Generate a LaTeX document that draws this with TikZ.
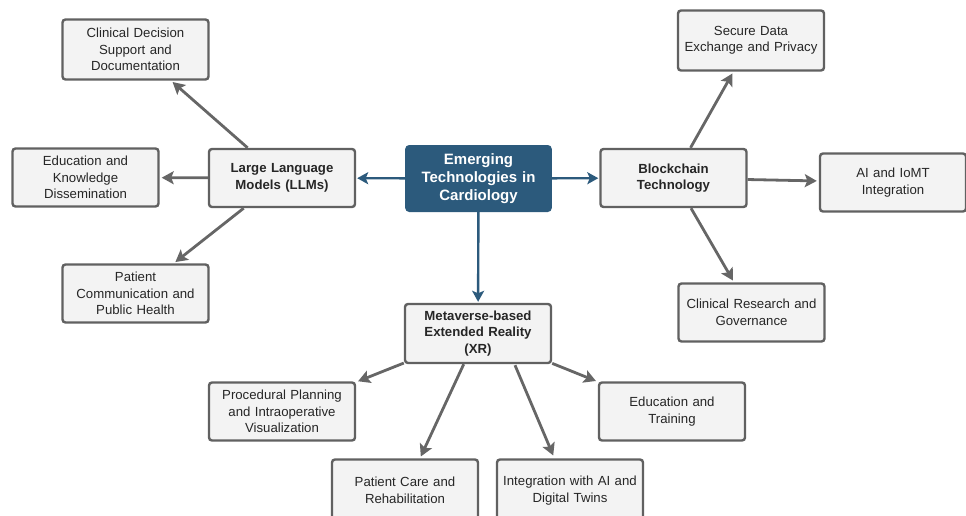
\documentclass[tikz,border=0pt]{standalone}
\usepackage{fontspec}
\setmainfont{Liberation Sans}
\usetikzlibrary{arrows.meta,calc}
\definecolor{navy}{HTML}{2C5A7C}
\definecolor{boxfill}{HTML}{F3F3F3}
\definecolor{boxline}{HTML}{616161}
\definecolor{arrgray}{HTML}{666666}
\tikzset{
  leaf/.style={draw=boxline, line width=2.4pt, fill=boxfill, rounded corners=3pt,
    minimum width=146pt, minimum height=58pt, inner sep=2pt, align=center,
    text width=140pt, font=\fontsize{13.2}{16.5}\selectfont, text=black!85},
  hub/.style={leaf, font=\fontsize{13.2}{16.5}\selectfont\bfseries},
  core/.style={fill=navy, draw=none, rounded corners=4pt, minimum width=145pt,
    minimum height=67pt, align=center, text width=140pt, text=white,
    font=\fontsize{15}{18}\selectfont\bfseries},
  grayarr/.style={draw=arrgray, line width=2.8pt, -{Stealth[length=12pt,width=13pt,inset=2.5pt]}, shorten >=2pt},
  bluearr/.style={draw=navy, line width=2.4pt, -{Stealth[length=11pt,width=12pt,inset=2.5pt]}, shorten >=1pt},
}
\begin{document}
\begin{tikzpicture}[x=1pt,y=-1pt]
\useasboundingbox (0,0) rectangle (966,516);
\node[core] (ctr) at (478.5,178.5) {Emerging\\Technologies in\\Cardiology};
\node[hub] (llm) at (282,178) {Large Language\\Models (LLMs)};
\node[hub] (blk) at (673.5,178) {Blockchain\\Technology};
\node[hub, minimum height=59pt] (xr) at (478,333.5) {Metaverse-based\\Extended Reality\\(XR)};
\node[leaf, minimum height=60pt] (cds) at (135.5,49.5) {Clinical Decision\\Support and\\Documentation};
\node[leaf] (edk) at (85.5,177.5) {Education and\\Knowledge\\Dissemination};
\node[leaf] (pcm) at (135.5,293.5) {Patient\\Communication and\\Public Health};
\node[leaf, minimum height=60pt] (sec) at (751,40.5) {Secure Data\\Exchange and Privacy};
\node[leaf] (aii) at (893,182.5) {AI and IoMT\\Integration};
\node[leaf] (cre) at (751.5,312.5) {Clinical Research and\\Governance};
\node[leaf] (ppl) at (282,411.5) {Procedural Planning\\and Intraoperative\\Visualization};
\node[leaf] (edt) at (672,411.5) {Education and\\Training};
\node[leaf, minimum height=62pt] (pcr) at (405,490.5) {Patient Care and\\Rehabilitation};
\node[leaf, minimum height=62pt] (int) at (570,490.5) {Integration with AI and\\Digital Twins};
\draw[bluearr] (ctr) -- (llm);
\draw[bluearr] (ctr) -- (blk);
\draw[bluearr] (ctr) -- (xr);
\draw[grayarr] (llm) -- (cds);
\draw[grayarr] (llm) -- (edk);
\draw[grayarr] (llm) -- (pcm);
\draw[grayarr] (blk) -- (sec);
\draw[grayarr] (blk) -- (aii);
\draw[grayarr] (blk) -- (cre);
\draw[grayarr] (xr) -- (ppl);
\draw[grayarr] (xr) -- (edt);
\draw[grayarr] (xr) -- (pcr);
\draw[grayarr] ($(xr.south)+(37,1)$) -- ($(int.north)+(-16,-1)$);
\end{tikzpicture}
\end{document}
